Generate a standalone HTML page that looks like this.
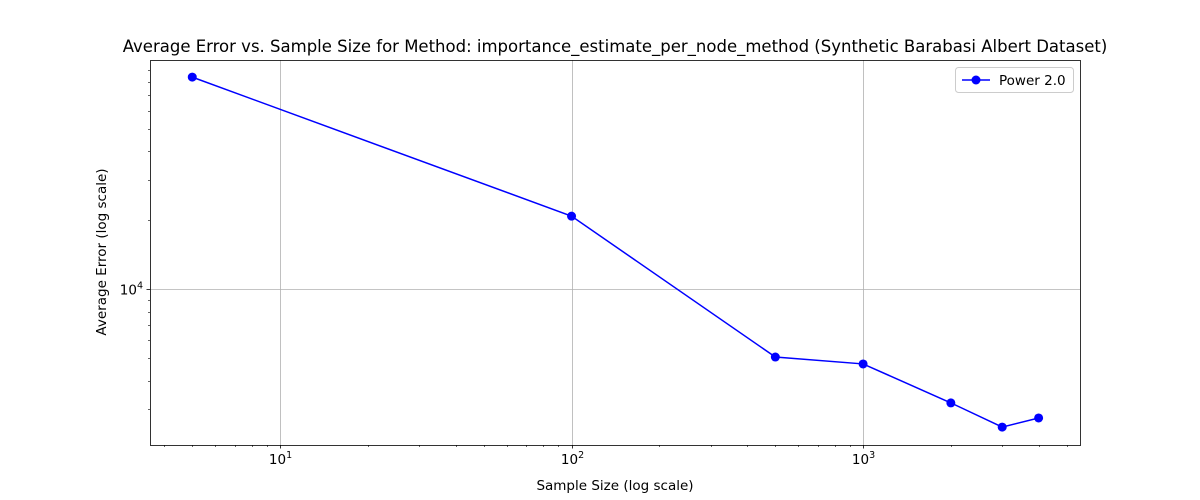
<!DOCTYPE html>
<html><head><meta charset="utf-8"><style>
body{margin:0;background:#fff}
svg{display:block;font-family:"DejaVu Sans","Liberation Sans",sans-serif}
</style></head><body>
<svg id="chart" width="1200" height="500">
<text x="615" y="52" text-anchor="middle" font-size="16.5" fill="#000">Average Error vs. Sample Size for Method: importance_estimate_per_node_method (Synthetic Barabasi Albert Dataset)</text>
<g id="grid"></g><g id="axes"></g><g id="series"></g>
<text x="615" y="490" text-anchor="middle" font-size="13.5">Sample Size (log scale)</text>
<text transform="translate(106,252) rotate(-90)" text-anchor="middle" font-size="13.5">Average Error (log scale)</text>
<g>
<rect x="955.5" y="67.5" width="118" height="25" rx="3" fill="#fff" stroke="#ccc"/>
<line x1="962" y1="80" x2="990" y2="80" stroke="#0000ff" stroke-width="1.5"/>
<circle cx="976" cy="80" r="4.5" fill="#0000ff"/>
<text x="999" y="85" font-size="13.5">Power 2.0</text>
</g>
</svg>
<script>
const sampleSizes=[5,100,500,1000,2000,3000,4000];
const avgErrors=[84100,20840,5070,4730,3200,2510,2750];
const xTicks=[10,100,1000];
const xTickLabels=["1","2","3"];
const yTicks=[10000];
const yTickLabels=["4"];
const NS="http://www.w3.org/2000/svg";
const L=150,R=1080,T=60,B=445;
const xMinL=0.554,xMaxL=3.744;
const yMinL=3.3216,yMaxL=4.9994;
function xs(v){return L+(Math.log10(v)-xMinL)/(xMaxL-xMinL)*(R-L);}
function ys(v){return B-(Math.log10(v)-yMinL)/(yMaxL-yMinL)*(B-T);}
function mk(p,tag,a){const e=document.createElementNS(NS,tag);for(const k in a)e.setAttribute(k,a[k]);p.appendChild(e);return e;}
const grid=document.getElementById('grid'),axes=document.getElementById('axes'),ser=document.getElementById('series');
xTicks.forEach((t,i)=>{const x=Math.round(xs(t))+.5;
 const g=mk(grid,'line',{x1:x,x2:x,y1:T,y2:B,stroke:'#b0b0b0','stroke-width':0.8});
 
 
 mk(axes,'line',{x1:x,x2:x,y1:B,y2:B+3.5,stroke:'#000','stroke-width':0.8});
 const tx=mk(axes,'text',{x:x,y:B+19,'text-anchor':'middle','font-size':13.5});
 tx.innerHTML='10<tspan dy="-6" font-size="9.5">'+xTickLabels[i]+'</tspan>';
 
 
});
for(let d=0;d<=3;d++)for(let m=2;m<=9;m++){const v=m*Math.pow(10,d);const lv=Math.log10(v);if(lv<xMinL||lv>xMaxL)continue;const x=Math.round(xs(v))+.5;mk(axes,'line',{x1:x,x2:x,y1:B,y2:B+2,stroke:'#000','stroke-width':0.6});}
yTicks.forEach((t,i)=>{const y=Math.round(ys(t))+.5;
 const g=mk(grid,'line',{x1:L,x2:R,y1:y,y2:y,stroke:'#b0b0b0','stroke-width':0.8});
 
 
 mk(axes,'line',{x1:L-3.5,x2:L,y1:y,y2:y,stroke:'#000','stroke-width':0.8});
 const tx=mk(axes,'text',{x:L-7,y:y+5,'text-anchor':'end','font-size':13.5});
 tx.innerHTML='10<tspan dy="-6" font-size="9.5">'+yTickLabels[i]+'</tspan>';
 
 
});
for(let d=3;d<=4;d++)for(let m=2;m<=9;m++){const v=m*Math.pow(10,d);const lv=Math.log10(v);if(lv<yMinL||lv>yMaxL)continue;const y=Math.round(ys(v))+.5;mk(axes,'line',{x1:L-2,x2:L,y1:y,y2:y,stroke:'#000','stroke-width':0.6});}
const fr=mk(axes,'rect',{x:L+.5,y:T+.5,width:R-L,height:B-T,fill:'none',stroke:'#000','stroke-width':0.8});


const pts=sampleSizes.map((s,i)=>xs(s)+','+ys(avgErrors[i])).join(' ');
const pl=mk(ser,'polyline',{points:pts,fill:'none',stroke:'#0000ff','stroke-width':1.5});


sampleSizes.forEach((s,i)=>{const c=mk(ser,'circle',{cx:xs(s),cy:ys(avgErrors[i]),r:4.5,fill:'#0000ff'});
 
 
});
</script>
</body></html>
